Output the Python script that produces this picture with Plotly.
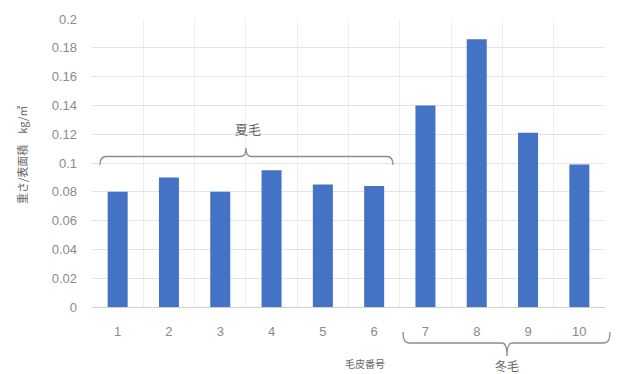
import plotly.graph_objects as go

categories = ["1", "2", "3", "4", "5", "6", "7", "8", "9", "10"]
values = [0.080, 0.090, 0.080, 0.095, 0.085, 0.084, 0.140, 0.186, 0.121, 0.099]
y_ticks = [0, 0.02, 0.04, 0.06, 0.08, 0.1, 0.12, 0.14, 0.16, 0.18, 0.2]
y_tick_text = ["0", "0.02", "0.04", "0.06", "0.08", "0.1", "0.12", "0.14", "0.16", "0.18", "0.2"]
x_title = "毛皮番号"
y_title = "重さ/表面積　kg/㎡"
summer_label = "夏毛"
winter_label = "冬毛"

W, H = 622, 374
L, R, T, B = 92, 17, 19, 67
PW, PH = W - L - R, H - T - B

def fx(px):
    return (px - L) / PW

def fy(py):
    return (H - B - py) / PH

xs = list(range(1, len(categories) + 1))

fig = go.Figure()
fig.add_trace(go.Bar(x=xs, y=values, marker=dict(color="#4472C4", line=dict(width=0)), width=0.39))

font = "Noto Sans CJK JP, Noto Sans, sans-serif"
grey = "#7f7f7f"

fig.update_layout(
    width=W, height=H,
    margin=dict(l=L, r=R, t=T, b=B),
    paper_bgcolor="white", plot_bgcolor="white",
    showlegend=False,
    font=dict(family=font, color=grey, size=12),
)
fig.update_xaxes(
    range=[0.5, 10.5], tickvals=xs, ticktext=categories,
    showgrid=False, zeroline=False,
    showline=True, linecolor="#d0d0d0", linewidth=1,
    ticks="", ticklabelstandoff=12,
    tickfont=dict(size=13, color="#8a8a8a", family="Liberation Sans, sans-serif"),
    minor=dict(tick0=0.5, dtick=1, showgrid=True, gridcolor="#eeeeee", gridwidth=1, ticks=""),
)
fig.update_yaxes(
    range=[0, 0.2], tickvals=y_ticks, ticktext=y_tick_text,
    showgrid=True, gridcolor="#e4e4e4", gridwidth=1, zeroline=False,
    ticks="", ticklabelstandoff=14,
    tickfont=dict(size=13, color="#8a8a8a", family="Liberation Sans, sans-serif"),
)

line = dict(color="#8c8c8c", width=1.3)

def brace(x0, x1, xc, yh, yend, ytip):
    return (f"M {fx(x0)},{fy(yend)} Q {fx(x0)},{fy(yh)} {fx(x0+6)},{fy(yh)} "
            f"L {fx(xc-5)},{fy(yh)} Q {fx(xc)},{fy(yh)} {fx(xc)},{fy(ytip)} "
            f"Q {fx(xc)},{fy(yh)} {fx(xc+5)},{fy(yh)} "
            f"L {fx(x1-6)},{fy(yh)} Q {fx(x1)},{fy(yh)} {fx(x1)},{fy(yend)}")

# summer brace (above bars 1-6)
fig.add_shape(type="path", path=brace(100, 393, 246, 156.5, 165, 148),
              xref="paper", yref="paper", line=line)
# winter brace (below labels 7-10)
fig.add_shape(type="path", path=brace(403, 610, 507, 343, 332, 356),
              xref="paper", yref="paper", line=line)

def label(px, py, text, size, angle=0):
    fig.add_annotation(x=fx(px), y=fy(py), xref="paper", yref="paper", text=text,
                       showarrow=False, xanchor="center", yanchor="middle", textangle=angle,
                       font=dict(size=size, color="#666666", family=font))

label(248, 128, summer_label, 13)
label(507, 365, winter_label, 12)
label(365, 363, x_title, 10)
label(22, 155, y_title, 11, -90)

fig.write_html("out.html")
